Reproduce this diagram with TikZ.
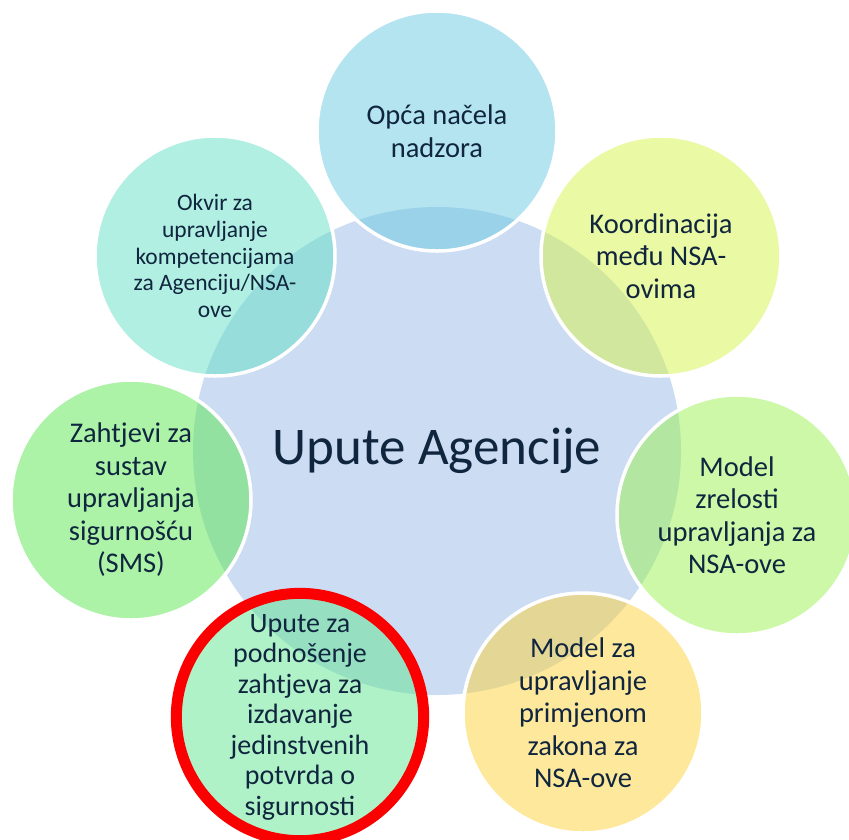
\documentclass[tikz,border=0pt]{standalone}
\usepackage{fontspec}
\setmainfont{Carlito}
\definecolor{txt}{RGB}{16,37,62}
\definecolor{cmid}{RGB}{204,220,242}
\definecolor{cA}{RGB}{105,201,225}
\definecolor{cB}{RGB}{213,243,73}
\definecolor{cC}{RGB}{153,241,81}
\definecolor{cD}{RGB}{253,209,57}
\definecolor{cE}{RGB}{97,229,145}
\definecolor{cF}{RGB}{89,231,81}
\definecolor{cG}{RGB}{99,223,197}
\definecolor{ring}{RGB}{250,0,0}
\begin{document}
\begin{tikzpicture}[x=1pt,y=-1pt,
  hub/.style={circle, minimum size=488pt, inner sep=0pt, fill=cmid, text=txt,
    font=\fontsize{53}{60}\selectfont},
  outer/.style={circle, minimum size=240pt, inner sep=0pt, draw=white, line width=3.5pt,
    fill opacity=0.5, draw opacity=1, text opacity=1, text=txt, align=center,
    font=\fontsize{28.5}{32.5}\selectfont},
  small/.style={font=\fontsize{23.5}{26.7}\selectfont},
  marked/.style={draw=ring, line width=11pt, minimum size=245pt,
    font=\fontsize{28}{30.5}\selectfont}]
\useasboundingbox (0,0) rectangle (849,839);
\node[hub] (hub) at (437,451) {Upute Agencije};
\node[outer, fill=cA] (n1) at (437,131) {Opća načela\\nadzora};
\node[outer, fill=cB] (n2) at (661,256) {Koordinacija\\među NSA-\\ovima};
\node[outer, fill=cC] (n3) at (737,515) {Model\\zrelosti\\upravljanja za\\NSA-ove};
\node[outer, fill=cD] (n4) at (583,713) {Model za\\upravljanje\\primjenom\\zakona za\\NSA-ove};
\node[outer, fill=cE, marked] (n5) at (300,717) {Upute za\\podnošenje\\zahtjeva za\\izdavanje\\jedinstvenih\\potvrda o\\sigurnosti};
\node[outer, fill=cF] (n6) at (131,500) {Zahtjevi za\\sustav\\upravljanja\\sigurnošću\\(SMS)};
\node[outer, fill=cG, small] (n7) at (215,256) {Okvir za\\upravljanje\\kompetencijama\\za Agenciju/NSA-\\ove};
\end{tikzpicture}
\end{document}
